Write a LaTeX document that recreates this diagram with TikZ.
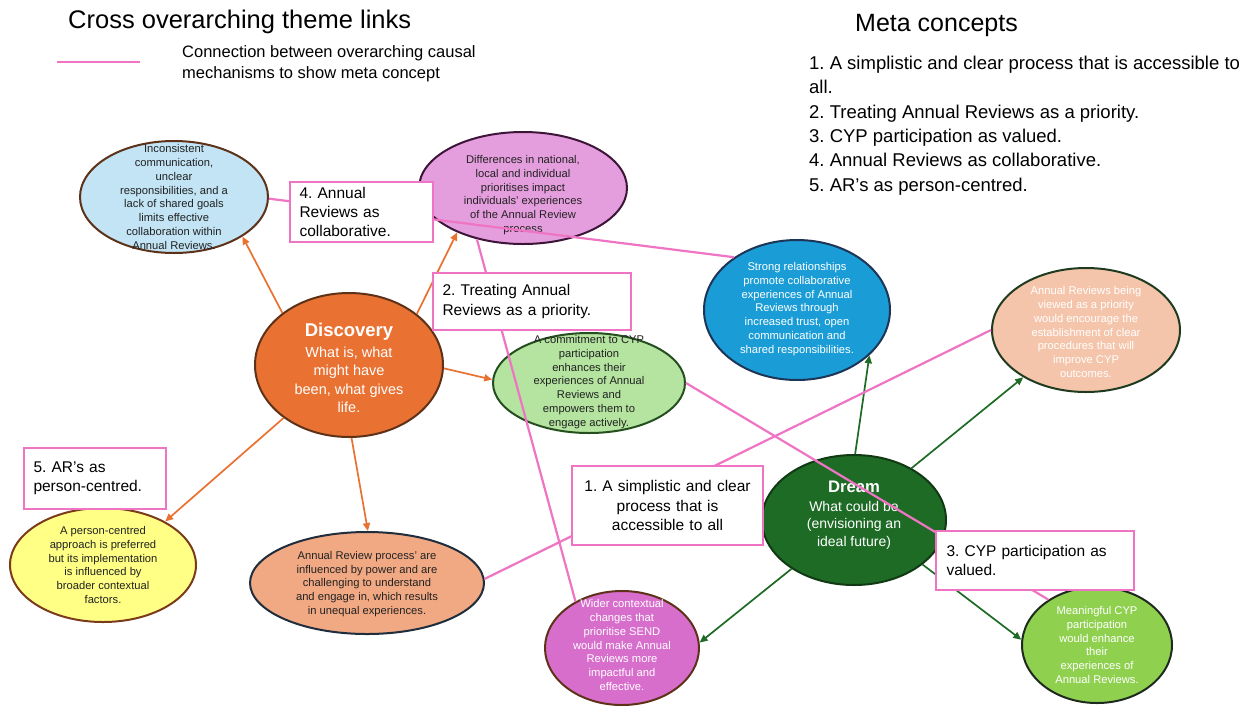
\documentclass[tikz,border=0pt]{standalone}
\usepackage{fontspec}
\setmainfont{Liberation Sans}
\usetikzlibrary{shapes.geometric,arrows.meta}
\frenchspacing

\definecolor{skyL}{HTML}{C2E4F5}
\definecolor{purpL}{HTML}{E59EDD}
\definecolor{blueM}{HTML}{1A9DD6}
\definecolor{peachL}{HTML}{F5C5AB}
\definecolor{greenL}{HTML}{B4E4A0}
\definecolor{orangeM}{HTML}{E97132}
\definecolor{yellowL}{HTML}{FFFF85}
\definecolor{salmon}{HTML}{F1A983}
\definecolor{dreamG}{HTML}{1E6B26}
\definecolor{magL}{HTML}{D86ECC}
\definecolor{limeL}{HTML}{8FD14F}
\definecolor{brownB}{HTML}{5E3219}
\definecolor{purpB}{HTML}{3D1538}
\definecolor{navyB}{HTML}{1D3557}
\definecolor{dkgrB}{HTML}{1E3B20}
\definecolor{grnB}{HTML}{264F1F}
\definecolor{ybrown}{HTML}{7A3B1B}
\definecolor{salB}{HTML}{1F2D3D}
\definecolor{dreamB}{HTML}{113A14}
\definecolor{limeB}{HTML}{1E2A1E}
\definecolor{pinkln}{HTML}{EF74C4}
\definecolor{txtD}{HTML}{222222}
\definecolor{arrG}{HTML}{1E6B26}

\tikzset{
  bubble/.style={ellipse, draw, line width=2pt, inner sep=0pt},
  btext/.style={align=center, inner sep=0pt, font=\fontsize{11.2}{13.8}\selectfont},
  tag/.style={draw=pinkln, line width=2pt, fill=white, align=left,
    inner xsep=9.5pt, inner ysep=0pt, font=\fontsize{15.5}{19.4}\selectfont},
  tagc/.style={tag, align=center},
  orarrow/.style={draw=orangeM, line width=1.7pt, -{Triangle[length=8pt,width=7pt]}},
  grarrow/.style={draw=arrG, line width=1.7pt, -{Triangle[length=8pt,width=7pt]}},
  metaline/.style={draw=pinkln, line width=2.2pt},
  metaitem/.style={anchor=base west, inner sep=0pt, font=\fontsize{18.5}{24}\selectfont, text=black}
}

\begin{document}
\begin{tikzpicture}[x=1pt,y=-1pt]
\useasboundingbox[fill=white] (0,0) rectangle (1258,705);

% headings and legend
\node[anchor=base west, inner sep=0pt, font=\fontsize{25.5}{30}\selectfont] (title) at (68,28) {Cross overarching theme links};
\node[anchor=base west, inner sep=0pt, font=\fontsize{25}{30}\selectfont] (metatitle) at (855,31) {Meta concepts};
\coordinate (lg1) at (57,62);
\coordinate (lg2) at (140,62);
\draw[metaline] (lg1) -- (lg2);
\node[anchor=base west, inner sep=0pt, font=\fontsize{16.5}{21}\selectfont] (lgt1) at (182,57) {Connection between overarching causal};
\node[anchor=base west, inner sep=0pt, font=\fontsize{16.5}{21}\selectfont] (lgt2) at (182,78) {mechanisms to show meta concept};

% list of meta concepts
\node[metaitem] (m1) at (809,69) {1. A simplistic and clear process that is accessible to};
\node[metaitem] (m1b) at (809,93) {all.};
\node[metaitem] (m2) at (809,118) {2. Treating Annual Reviews as a priority.};
\node[metaitem] (m3) at (809,142) {3. CYP participation as valued.};
\node[metaitem] (m4) at (809,166) {4. Annual Reviews as collaborative.};
\node[metaitem] (m5) at (809,191) {5. AR’s as person-centred.};

% theme bubbles
\node[bubble, fill=skyL, draw=brownB, minimum width=188pt, minimum height=112pt] (inc) at (174,197) {};
\node[btext, text=txtD] (inct) at (174,197) {Inconsistent\\communication,\\unclear\\responsibilities, and a\\lack of shared goals\\limits effective\\collaboration within\\Annual Reviews.};

\node[bubble, fill=purpL, draw=purpB, minimum width=208pt, minimum height=112pt] (dif) at (523,188) {};
\node[btext, text=txtD] (dift) at (523,195) {Differences in national,\\local and individual\\prioritises impact\\individuals’ experiences\\of the Annual Review\\process};

\node[bubble, fill=blueM, draw=navyB, minimum width=186pt, minimum height=140pt] (str) at (797,310) {};
\node[btext, text=white] (strt) at (797,309) {Strong relationships\\promote collaborative\\experiences of Annual\\Reviews through\\increased trust, open\\communication and\\shared responsibilities.};

\node[bubble, fill=peachL, draw=dkgrB, minimum width=188pt, minimum height=124pt] (pri) at (1086,330) {};
\node[btext, text=white] (prit) at (1086,332) {Annual Reviews being\\viewed as a priority\\would encourage the\\establishment of clear\\procedures that will\\improve CYP\\outcomes.};

\node[bubble, fill=greenL, draw=grnB, minimum width=192pt, minimum height=100pt] (com) at (589,383) {};
\node[btext, text=txtD] (comt) at (589,382) {A commitment to CYP\\participation\\enhances their\\experiences of Annual\\Reviews and\\empowers them to\\engage actively.};

\node[bubble, fill=orangeM, draw=brownB, minimum width=188pt, minimum height=144pt] (disc) at (349,365) {};
\node[align=center, inner sep=0pt, text=white, font=\fontsize{14.5}{18.5}\selectfont] (disct) at (349,368)
  {{\fontsize{18.5}{20}\selectfont\bfseries Discovery}\\[2pt]What is, what\\might have\\been, what gives\\life.};

\node[bubble, fill=yellowL, draw=ybrown, minimum width=186pt, minimum height=114pt] (per) at (103,565) {};
\node[btext, text=txtD] (pert) at (103,565) {A person-centred\\approach is preferred\\but its implementation\\is influenced by\\broader contextual\\factors.};

\node[bubble, fill=salmon, draw=salB, minimum width=234pt, minimum height=102pt] (pow) at (367,583) {};
\node[btext, text=txtD] (powt) at (367,584) {Annual Review process’ are\\influenced by power and are\\challenging to understand\\and engage in, which results\\in unequal experiences.};

\node[bubble, fill=dreamG, draw=dreamB, minimum width=184pt, minimum height=130pt] (dream) at (854,520) {};
\node[align=center, inner sep=0pt, text=white, font=\fontsize{14}{17.5}\selectfont] (dreamt) at (854,515)
  {{\fontsize{16.7}{18}\selectfont\bfseries Dream}\\[1pt]What could be\\(envisioning an\\ideal future)};

\node[bubble, fill=magL, draw=brownB, minimum width=154pt, minimum height=114pt] (wid) at (622,648) {};
\node[btext, text=white] (widt) at (622,645) {Wider contextual\\changes that\\prioritise SEND\\would make Annual\\Reviews more\\impactful and\\effective.};

\node[bubble, fill=limeL, draw=limeB, minimum width=150pt, minimum height=116pt] (mea) at (1097,645) {};
\node[btext, text=white] (meat) at (1097,645) {Meaningful CYP\\participation\\would enhance\\their\\experiences of\\Annual Reviews.};

% arrows out of Discovery
\draw[orarrow] (disc.142) -- (inc.-30);
\draw[orarrow] (disc.37) -- (dif.-146);
\draw[orarrow] (disc.-2) -- (com.178);
\draw[orarrow] (disc.-141) -- (per.35);
\draw[orarrow] (disc.-88) -- (pow.89);

% arrows out of Dream
\draw[grarrow] (dream.89) -- (str.-32);
\draw[grarrow] (dream.42) -- (pri.-143);
\draw[grarrow] (dream.-142) -- (wid.4);
\draw[grarrow] (dream.-33) -- (mea.176);

% links between themes
\draw[metaline] (inc.-1) -- (str.140);
\draw[metaline] (dif.-132) -- (wid.135);
\draw[metaline] (com.0) -- (mea.137);
\draw[metaline] (pow.2) -- (pri.180);

% meta concept tags
\node[tag, minimum width=143pt, minimum height=60pt, text width=124pt] (t4) at (361.5,212) {4. Annual\\Reviews as\\collaborative.};
\node[tag, minimum width=198pt, minimum height=57pt, text width=179pt] (t2) at (532,301.5) {2. Treating Annual\\Reviews as a priority.};
\node[tagc, minimum width=191pt, minimum height=79pt, text width=172pt] (t1) at (667.5,505.5) {1. A simplistic and clear\\process that is\\accessible to all};
\node[tag, minimum width=198pt, minimum height=59pt, text width=177pt, inner xsep=10.5pt] (t3) at (1035,560.5) {3. CYP participation as\\valued.};
\node[tag, minimum width=142pt, minimum height=61pt, text width=123pt] (t5) at (95,478.5) {5. AR’s as\\person-centred.};

\end{tikzpicture}
\end{document}
